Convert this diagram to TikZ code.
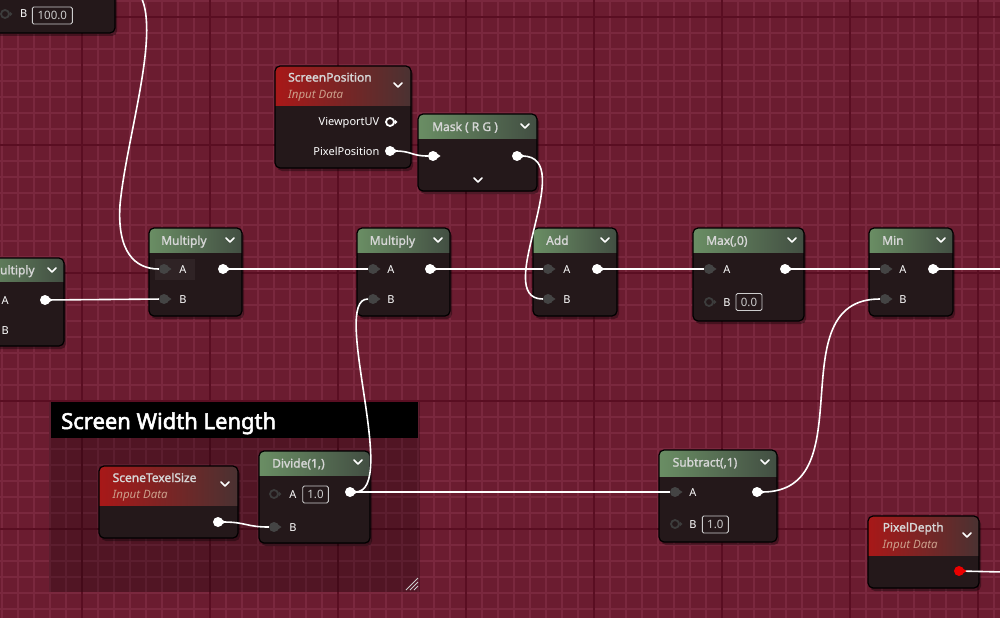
\documentclass[tikz,border=0pt]{standalone}
\usepackage{fontspec}
\setmainfont{Noto Sans}
\newfontfamily\boldfam{Noto Sans}[FakeBold=1.6]
\newfontfamily\heavyfam{Noto Sans}[FakeBold=2.4]
\definecolor{bg}{RGB}{107,28,48}
\definecolor{gminor}{RGB}{122,40,62}
\definecolor{gmajor}{RGB}{90,14,34}
\definecolor{nodebody}{RGB}{36,24,26}
\definecolor{pingrey}{RGB}{68,68,68}
\definecolor{ringgrey}{RGB}{60,60,60}
\definecolor{titlegrey}{RGB}{214,214,214}
\definecolor{greenL}{RGB}{106,142,100}
\definecolor{greenR}{RGB}{66,78,66}
\definecolor{redL}{RGB}{168,24,24}
\definecolor{redR}{RGB}{74,50,50}
\definecolor{inputtan}{RGB}{204,160,140}
\definecolor{valgrey}{RGB}{205,205,205}
\definecolor{pinred}{RGB}{235,0,0}
\pgfdeclarelayer{bodies}
\pgfdeclarelayer{wires}
\pgfsetlayers{bodies,wires,main}
\tikzset{
 wire/.style={draw=white,line width=1.6pt},
 ntitle/.style={anchor=base west,inner sep=0,text=titlegrey,font=\boldfam\fontsize{12}{12}\selectfont},
 nsub/.style={anchor=base west,inner sep=0,text=inputtan,font=\fontsize{11.5}{12}\selectfont\itshape},
 lbl/.style={anchor=base west,inner sep=0,text=white,font=\fontsize{11}{12}\selectfont},
 lblr/.style={anchor=base east,inner sep=0,text=white,font=\fontsize{11}{12}\selectfont},
 valbox/.style={draw=valgrey,line width=0.9pt,rounded corners=1.5pt,text=valgrey,inner sep=0,minimum height=17pt,font=\fontsize{11.5}{12}\selectfont},
 chev/.style={draw=white,line width=1.6pt,line cap=round,line join=round},
 pindot/.style={circle,inner sep=0,minimum size=10pt},
}
\newcommand\opin[3]{%
 \node[pindot,fill=#3] (#1) at (#2) {};
 \fill[#3] ([xshift=3.2pt,yshift=3pt]#1.center) -- ([xshift=7.5pt]#1.center) -- ([xshift=3.2pt,yshift=-3pt]#1.center) -- cycle;}
\newcommand\hpin[3]{%
 \node[pindot,draw=#3,line width=1.8pt,fill=nodebody,minimum size=8pt] (#1) at (#2) {};
 \fill[#3] ([xshift=4.6pt,yshift=2.6pt]#1.center) -- ([xshift=7.5pt]#1.center) -- ([xshift=4.6pt,yshift=-2.6pt]#1.center) -- cycle;}
\newcommand\nbody[6]{%
 \fill[black,opacity=0.35,rounded corners=5pt] (#1+2,#2+3) rectangle (#3+2,#4+3);
 \fill[nodebody,rounded corners=5pt] (#1,#2) rectangle (#3,#4);
 \begin{scope}
 \clip[rounded corners=5pt] (#1,#2) rectangle (#3,#4);
 \shade[left color=#6L,right color=#6R] (#1,#2) rectangle (#3,#5);
 \end{scope}
 \draw[black,line width=1.2pt,rounded corners=5pt] (#1,#2) rectangle (#3,#4);}
\newcommand\chevron[1]{\draw[chev] (#1) ++(-4,-2) -- ++(4,4) -- ++(4,-4);}
\begin{document}
\begin{tikzpicture}[x=1pt,y=-1pt]
\useasboundingbox (0,0) rectangle (1000,618);
\begin{pgfonlayer}{bodies}
% grid
\fill[bg] (0,0) rectangle (1000,618);
\foreach \i in {2,18,...,994} \draw[gminor,line width=1.6pt] (\i,0) -- (\i,618);
\foreach \j in {1,17,...,609} \draw[gminor,line width=1.6pt] (0,\j) -- (1000,\j);
\foreach \i in {82,210,...,978} \draw[gmajor,line width=2pt] (\i,0) -- (\i,618);
\foreach \j in {17,145,...,529} \draw[gmajor,line width=2pt] (0,\j) -- (1000,\j);
% comment
\fill[black,opacity=0.24] (49,402) rectangle (420,592);
\fill[black] (51,402) rectangle (418,438);
\node[anchor=base west,inner sep=0,text=white,font=\heavyfam\fontsize{22}{22}\selectfont] (ctitle) at (61,429) {Screen Width Length};
\foreach \k in {4,8,12} \draw[white!80!black,line width=1pt] (418-\k,590) -- (418,590-\k);
% node 0 (top-left)
\nbody{-10}{-10}{115}{33}{-20}{green}
\node[lbl] (n0Bl) at (20,18) {B};
\node[valbox,minimum width=40pt] (n0v) at (52.3,15.5) {100.0};
% left multiply
\nbody{-29}{258}{64}{346}{281}{green}
\node[ntitle] (lmT) at (-11,274.3) {Multiply};
\chevron{52,270}
\node[lbl] (lmA) at (1.5,304) {A};
\node[lbl] (lmB) at (1.5,334) {B};
% multiply 1
\nbody{149}{228}{242}{316}{252}{green}
\node[ntitle] (m1T) at (161,244.8) {Multiply};
\chevron{230,240}
\fill[white,opacity=0.05] (155,259) rectangle (195,280);
\node[lbl] (m1Al) at (179.2,273) {A};
\node[lbl] (m1Bl) at (179.2,303) {B};
% multiply 2
\nbody{357}{228}{450}{316}{252}{green}
\node[ntitle] (m2T) at (369.5,244.8) {Multiply};
\chevron{438,240}
\node[lbl] (m2Al) at (387.2,273) {A};
\node[lbl] (m2Bl) at (387.2,303) {B};
% add
\nbody{533}{228}{617}{316}{252}{green}
\node[ntitle] (addT) at (546,244.8) {Add};
\chevron{605,240}
\node[lbl] (addAl) at (563.2,273) {A};
\node[lbl] (addBl) at (563.2,303) {B};
% max
\nbody{693}{228}{804}{321}{252}{green}
\node[ntitle] (maxT) at (706,244.8) {Max(,0)};
\chevron{792,240}
\node[lbl] (maxAl) at (723.2,273) {A};
\node[lbl] (maxBl) at (723.2,306) {B};
\node[valbox,minimum width=26pt] (maxv) at (749,302) {0.0};
% min
\nbody{869}{228}{953}{316}{252}{green}
\node[ntitle] (minT) at (882,244.8) {Min};
\chevron{941,240}
\node[lbl] (minAl) at (899.2,273) {A};
\node[lbl] (minBl) at (899.2,303) {B};
% screen position
\nbody{275}{66}{411}{168}{105}{red}
\node[ntitle] (spT) at (288,81.6) {ScreenPosition};
\node[nsub] (spS) at (288,98.5) {Input Data};
\chevron{398,85}
\node[lblr] (spUVl) at (379.5,125.7) {ViewportUV};
\node[lblr] (spPixl) at (379.5,155) {PixelPosition};
% mask
\nbody{418}{114}{537}{191}{138}{green}
\node[ntitle] (maskT) at (432,131) {Mask ( R G )};
\chevron{525,126}
\chevron{478,180}
% scene texel size
\nbody{99}{466}{238}{538}{505}{red}
\node[ntitle] (stsT) at (112.5,482) {SceneTexelSize};
\node[nsub] (stsS) at (112.5,498.5) {Input Data};
\chevron{225,484}
% divide
\nbody{259}{451}{370}{543}{475}{green}
\node[ntitle] (divT) at (272,467.6) {Divide(1,)};
\chevron{358,462}
\node[lbl] (divAl) at (289.2,498.3) {A};
\node[valbox,minimum width=25.6pt] (divv) at (315.5,494.5) {1.0};
\node[lbl] (divBl) at (289.2,531) {B};
% subtract
\nbody{659}{450}{777}{542}{476}{green}
\node[ntitle] (subT) at (672.5,466.6) {Subtract(,1)};
\chevron{765,462}
\node[lbl] (subAl) at (689.2,496) {A};
\node[lbl] (subBl) at (689.2,528.3) {B};
\node[valbox,minimum width=26pt] (subv) at (715.3,524.5) {1.0};
% pixel depth
\nbody{868}{516}{979}{588}{555}{red}
\node[ntitle] (pdT) at (882.5,531.6) {PixelDepth};
\node[nsub] (pdS) at (882.5,548.5) {Input Data};
\chevron{967,535}
\end{pgfonlayer}
% pins
\hpin{n0B}{5,14}{ringgrey}
\opin{lmOut}{45,300}{white}
\opin{m1A}{164,269}{pingrey}
\opin{m1B}{164,299}{pingrey}
\opin{m1Out}{223,269}{white}
\opin{m2A}{373,269}{pingrey}
\opin{m2B}{373,299}{pingrey}
\opin{m2Out}{430,269}{white}
\opin{addA}{548,269}{pingrey}
\opin{addB}{548,299}{pingrey}
\opin{addOut}{597,269}{white}
\opin{maxA}{709,269}{pingrey}
\hpin{maxB}{709,302}{ringgrey}
\opin{maxOut}{785,269}{white}
\opin{minA}{885,269}{pingrey}
\opin{minB}{885,299}{pingrey}
\opin{minOut}{933,269}{white}
\hpin{spUV}{390,122}{white}
\opin{spPix}{390,151}{white}
\opin{maskIn}{433,156}{white}
\opin{maskOut}{517,156}{white}
\opin{stsOut}{218,522}{white}
\hpin{divA}{274,494}{ringgrey}
\opin{divB}{274,527}{pingrey}
\opin{divOut}{350,492}{white}
\opin{subA}{675,492}{pingrey}
\hpin{subB}{675,524}{ringgrey}
\opin{subOut}{757,492}{white}
\opin{pdOut}{959,571}{pinred}
% wires
\coordinate (topin) at (141,-3);
\coordinate (rightend1) at (1003,269);
\coordinate (rightend2) at (1003,572);
\begin{pgfonlayer}{wires}
\draw[wire] (topin) .. controls (160,35) and (126,140) .. (120,205) .. controls (117,252) and (135,269) .. (m1A);
\draw[wire] (lmOut) -- (m1B);
\draw[wire] (m1Out) -- (m2A);
\draw[wire] (m2Out) -- (addA);
\draw[wire] (addOut) -- (maxA);
\draw[wire] (maxOut) -- (minA);
\draw[wire] (minOut) -- (rightend1);
\draw[wire] (spPix) .. controls (412,151) and (411,156) .. (maskIn);
\draw[wire] (maskOut) .. controls (580,156) and (490,299) .. (addB);
\draw[wire] (divOut) .. controls (400,492) and (330,299) .. (m2B);
\draw[wire] (divOut) -- (subA);
\draw[wire] (subOut) .. controls (866,492) and (777,299) .. (minB);
\draw[wire] (stsOut) .. controls (246,522) and (246,527) .. (divB);
\draw[wire] (pdOut) -- (rightend2);
\end{pgfonlayer}
\end{tikzpicture}
\end{document}
